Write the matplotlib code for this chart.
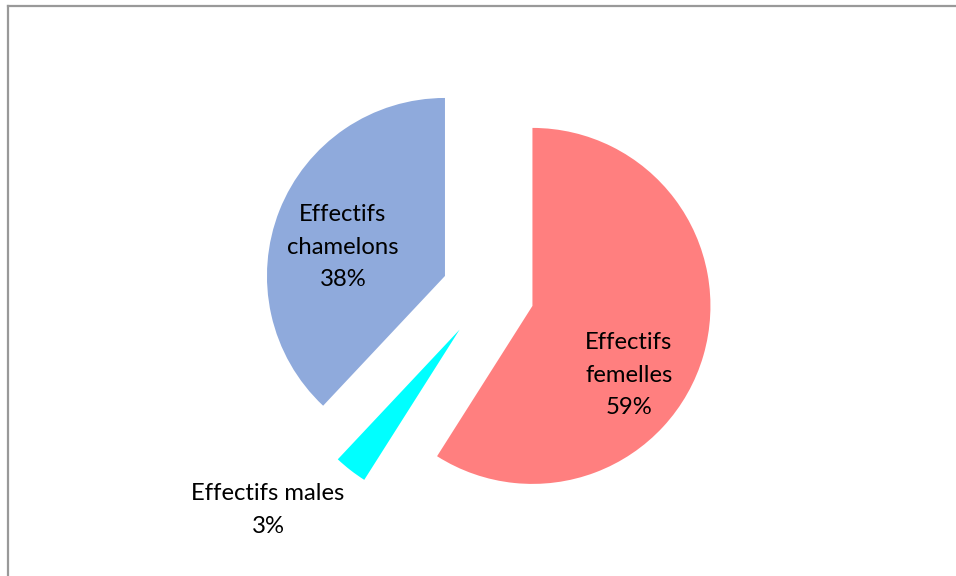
import matplotlib
matplotlib.use("Agg")
import matplotlib.pyplot as plt
from matplotlib.lines import Line2D

# Répartition des effectifs
categories = ["Effectifs femelles", "Effectifs males", "Effectifs chamelons"]
parts = [59, 3, 38]
colors = ["#FF7F7F", "#00FFFF", "#8FAADC"]

W, H = 956, 576
fig = plt.figure(figsize=(W / 100, H / 100), dpi=100)
fig.patch.set_facecolor("white")
ax = fig.add_axes([0, 0, 1, 1])

radius = 178
# pie() takes the explode offsets in data units
explode = [0.26 * radius] * len(parts)
wedges, _ = ax.pie(parts, colors=colors, startangle=90, counterclock=False,
                   center=(488, H - 293), radius=radius, explode=explode,
                   wedgeprops=dict(linewidth=0))
ax.set_xlim(0, W)
ax.set_ylim(0, H)
ax.set_aspect("equal")
ax.axis("off")

font = dict(family=["Lato", "DejaVu Sans"], fontsize=17.2, color="black",
            ha="center", va="center", multialignment="center", linespacing=1.66)
label_pos = [(629, H - 375), (268, H - 510), (343, H - 247)]
for name, p, (x, y) in zip(categories, parts, label_pos):
    words = name.split(" ")
    if p < 10:
        txt = f"{name}\n{p}%"
    else:
        txt = f"{words[0]}\n{words[1]}\n{p}%"
    ax.text(x, y, txt, **font)

# Cadre (haut et gauche)
fig.add_artist(Line2D([7.5 / W, 1], [1 - 5.5 / H, 1 - 5.5 / H], color="#999999", lw=1.6,
                      transform=fig.transFigure))
fig.add_artist(Line2D([7.5 / W, 7.5 / W], [0, 1 - 5.5 / H], color="#999999", lw=1.6,
                      transform=fig.transFigure))

fig.savefig("out.png", dpi=100)
